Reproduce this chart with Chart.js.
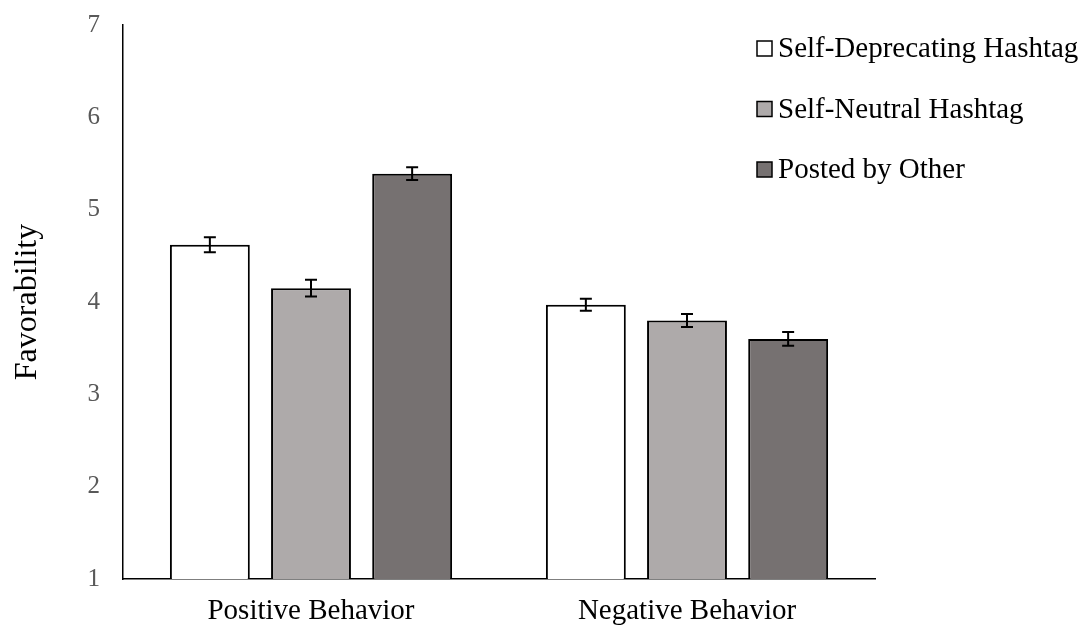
<!DOCTYPE html>
<html>
<head>
<meta charset="utf-8">
<script src="https://cdn.jsdelivr.net/npm/chart.js@4.4.1/dist/chart.umd.min.js"></script>
<style>
  html, body { margin: 0; padding: 0; background: #ffffff; }
  #wrap { width: 1087px; height: 630px; position: relative; }
</style>
</head>
<body>
<div id="wrap"><canvas id="c" width="1087" height="630"></canvas></div>
<script>
const categories = ["Positive Behavior", "Negative Behavior"];
const seriesNames = ["Self-Deprecating Hashtag", "Self-Neutral Hashtag", "Posted by Other"];
const selfDeprecating = [4.62, 3.97];
const selfNeutral = [4.15, 3.80];
const postedByOther = [5.39, 3.60];
const errSelfDeprecating = [0.08, 0.065];
const errSelfNeutral = [0.09, 0.07];
const errPostedByOther = [0.07, 0.075];
const yTicks = [1, 2, 3, 4, 5, 6, 7];

const colors = ["#FFFFFF", "#AEAAAA", "#767171"];
const FONT = "'Liberation Serif', 'Times New Roman', serif";

const errorBarPlugin = {
  id: 'errorBars',
  afterDatasetsDraw(chart) {
    const ctx = chart.ctx;
    const y = chart.scales.y;
    ctx.save();
    ctx.strokeStyle = '#000';
    ctx.lineWidth = 2;
    chart.data.datasets.forEach((ds, i) => {
      const meta = chart.getDatasetMeta(i);
      meta.data.forEach((bar, j) => {
        const v = ds.data[j], e = ds.errors[j];
        const x = bar.x;
        const yTop = y.getPixelForValue(v + e);
        const yBot = y.getPixelForValue(v - e);
        ctx.beginPath();
        ctx.moveTo(x, yTop); ctx.lineTo(x, yBot);
        ctx.moveTo(x - 6, yTop); ctx.lineTo(x + 6, yTop);
        ctx.moveTo(x - 6, yBot); ctx.lineTo(x + 6, yBot);
        ctx.stroke();
      });
    });
    ctx.restore();
  }
};

const legendPlugin = {
  id: 'customLegend',
  afterDraw(chart) {
    const ctx = chart.ctx;
    ctx.save();
    const x0 = 757, base0 = 57, gap = 60.5, box = 15;
    ctx.font = "29px " + FONT;
    ctx.textBaseline = 'alphabetic';
    ctx.textAlign = 'left';
    chart.data.datasets.forEach((ds, i) => {
      const bl = base0 + i * gap;
      const top = bl - 1 - box;
      ctx.fillStyle = ds.backgroundColor;
      ctx.fillRect(x0, top, box, box);
      ctx.strokeStyle = '#000';
      ctx.lineWidth = 1.5;
      ctx.strokeRect(x0, top, box, box);
      ctx.fillStyle = '#000';
      ctx.fillText(ds.label, x0 + box + 6, bl);
    });
    ctx.restore();
  }
};

const seriesValues = [selfDeprecating, selfNeutral, postedByOther];
const seriesErrors = [errSelfDeprecating, errSelfNeutral, errPostedByOther];

new Chart(document.getElementById('c'), {
  type: 'bar',
  data: {
    labels: categories,
    datasets: seriesNames.map((n, i) => ({
      label: n,
      data: seriesValues[i],
      errors: seriesErrors[i],
      backgroundColor: colors[i],
      borderColor: '#000',
      borderWidth: 2,
      categoryPercentage: 0.807,
      barPercentage: 0.79
    }))
  },
  options: {
    responsive: false,
    animation: false,
    devicePixelRatio: 1,
    layout: { padding: { top: 25, right: 212, bottom: 1, left: 0 } },
    plugins: { legend: { display: false }, tooltip: { enabled: false } },
    scales: {
      x: {
        afterFit(axis) { axis.paddingLeft = 0; axis.paddingRight = 0; axis.height = 50; },
        grid: { display: false, drawTicks: false },
        border: { color: '#000', width: 1.5 },
        ticks: { color: '#000', font: { family: FONT, size: 29 }, padding: 15, maxRotation: 0 }
      },
      y: {
        min: 1, max: 7,
        afterBuildTicks(axis) { axis.ticks = yTicks.map(v => ({ value: v })); },
        afterFit(axis) { axis.width = 123; axis.paddingTop = 0; axis.paddingBottom = 0; },
        grid: { display: false, drawTicks: false },
        border: { color: '#000', width: 1.5 },
        ticks: { color: '#595959', font: { family: FONT, size: 25 }, padding: 23 },
        title: { display: true, text: 'Favorability', color: '#000', font: { family: FONT, size: 32 }, padding: { top: 8, bottom: 10 } }
      }
    }
  },
  plugins: [errorBarPlugin, legendPlugin]
});
</script>
</body>
</html>
